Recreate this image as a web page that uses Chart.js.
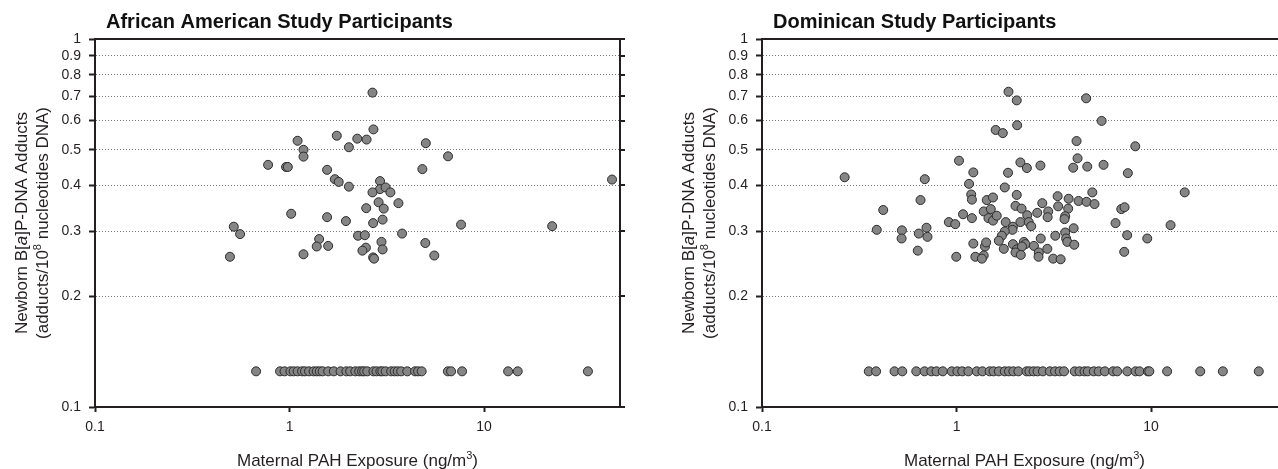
<!DOCTYPE html>
<html lang="en">
<head>
<meta charset="UTF-8">
<title>Newborn B[a]P-DNA adducts vs maternal PAH exposure</title>
<script src="https://cdn.jsdelivr.net/npm/chart.js"></script>
<style>
  html, body { margin: 0; padding: 0; background: #fff; overflow: hidden; width: 1278px; height: 469px; }
  .panel { position: absolute; top: 0; width: 640px; height: 469px; }
  #leftPanel { left: 0; }
  #rightPanel { left: 667px; }
</style>
</head>
<body>

<div class="panel" id="leftPanel"><canvas id="aaChart" width="640" height="469"></canvas></div>
<div class="panel" id="rightPanel"><canvas id="drChart" width="640" height="469"></canvas></div>

<script>
// axis ticks
const xTicks = [0.1, 1, 10];
const yTicks = [0.1, 0.2, 0.3, 0.4, 0.5, 0.6, 0.7, 0.8, 0.9, 1];

// value plotted for samples below detection (bottom row)
const NON_DETECT = 0.125;

// African American: detected adducts
const aaX = [2.67, 2.70, 1.75, 2.23, 2.49, 1.10, 5.02, 1.18, 2.02, 1.18,
             6.53, 0.776, 0.96, 0.98, 4.82, 1.56, 1.71, 1.79, 2.02, 2.92,
             2.92, 3.12, 2.67, 3.30, 2.48, 2.87, 3.05, 3.63, 1.02, 1.56,
             1.95, 3.01, 2.69, 7.62, 0.517, 0.557, 2.25, 2.44, 3.79, 1.42,
             1.38, 1.58, 2.97, 2.47, 2.37, 3.01, 4.99, 5.55, 0.494, 1.18,
             2.69, 2.72, 45.5, 22.4];
const aaY = [0.715, 0.568, 0.546, 0.536, 0.533, 0.529, 0.521, 0.500, 0.508, 0.479,
             0.480, 0.455, 0.449, 0.449, 0.443, 0.441, 0.416, 0.409, 0.397, 0.411,
             0.391, 0.395, 0.383, 0.383, 0.347, 0.360, 0.346, 0.358, 0.335, 0.328,
             0.320, 0.323, 0.316, 0.313, 0.309, 0.295, 0.292, 0.293, 0.296, 0.286,
             0.273, 0.274, 0.281, 0.271, 0.266, 0.268, 0.279, 0.258, 0.256, 0.260,
             0.255, 0.253, 0.415, 0.310];
// African American: below detection
const aaBelowX = [0.673, 0.894, 0.943, 1.01, 1.05, 1.10, 1.16, 1.20, 1.26, 1.33,
                  1.38, 1.43, 1.48, 1.58, 1.69, 1.83, 1.96, 2.05, 2.18, 2.28,
                  2.36, 2.42, 2.51, 2.70, 2.80, 2.93, 3.00, 3.12, 3.33, 3.47,
                  3.60, 3.75, 4.03, 4.42, 4.58, 4.78, 6.52, 6.77, 7.71, 13.3,
                  14.9, 34.2];

// Dominican: detected adducts
const drX = [1.85, 2.04, 2.05, 1.59, 1.73, 4.14, 1.03, 2.13, 2.30, 2.70,
             4.19, 3.98, 0.266, 0.687, 1.22, 1.84, 1.16, 1.77, 0.653, 0.420,
             1.19, 1.20, 1.43, 1.54, 2.04, 2.01, 2.16, 2.76, 3.31, 3.77,
             4.24, 3.33, 3.75, 3.62, 3.59, 4.00, 1.08, 1.20, 1.38, 1.50,
             1.46, 1.54, 1.61, 2.31, 2.60, 2.96, 2.94, 2.13, 1.79, 1.95,
             1.94, 2.35, 2.42, 0.913, 0.985, 0.389, 0.524, 0.522, 0.640, 0.701,
             0.709, 1.77, 1.71, 1.65, 2.71, 3.22, 3.62, 3.66, 3.71, 4.03,
             1.22, 1.40, 1.42, 1.95, 2.22, 2.26, 2.04, 2.17, 2.50, 1.75,
             2.01, 2.14, 2.65, 2.93, 2.64, 0.632, 0.997, 1.25, 1.38, 1.35,
             3.14, 3.43, 4.64, 5.57, 8.30, 4.70, 5.70, 7.60, 4.99, 4.66,
             5.12, 7.03, 7.31, 14.9, 6.57, 12.6, 7.54, 9.56, 7.28];
const drY = [0.719, 0.681, 0.583, 0.566, 0.555, 0.528, 0.467, 0.462, 0.446, 0.453,
             0.474, 0.447, 0.421, 0.416, 0.434, 0.433, 0.404, 0.395, 0.365, 0.343,
             0.378, 0.366, 0.365, 0.371, 0.377, 0.352, 0.346, 0.358, 0.374, 0.368,
             0.363, 0.351, 0.346, 0.330, 0.324, 0.306, 0.334, 0.326, 0.340, 0.345,
             0.326, 0.321, 0.331, 0.332, 0.337, 0.340, 0.328, 0.318, 0.318, 0.309,
             0.303, 0.318, 0.310, 0.318, 0.314, 0.303, 0.302, 0.287, 0.296, 0.307,
             0.290, 0.300, 0.292, 0.283, 0.287, 0.292, 0.298, 0.287, 0.281, 0.276,
             0.278, 0.273, 0.280, 0.277, 0.281, 0.277, 0.268, 0.273, 0.274, 0.269,
             0.263, 0.259, 0.263, 0.269, 0.256, 0.266, 0.256, 0.256, 0.258, 0.253,
             0.253, 0.252, 0.690, 0.599, 0.511, 0.450, 0.455, 0.432, 0.383, 0.361,
             0.356, 0.345, 0.349, 0.383, 0.316, 0.312, 0.293, 0.287, 0.264];
// Dominican: below detection
const drBelowX = [0.354, 0.386, 0.480, 0.526, 0.621, 0.685, 0.742, 0.789, 0.850, 0.945,
                  1.01, 1.07, 1.15, 1.27, 1.36, 1.48, 1.55, 1.65, 1.77, 1.86,
                  1.96, 2.08, 2.29, 2.37, 2.49, 2.61, 2.78, 3.02, 3.21, 3.39,
                  3.57, 4.05, 4.29, 4.55, 4.73, 5.08, 5.38, 5.79, 6.38, 6.70,
                  7.55, 8.32, 8.73, 9.63, 9.80, 12.1, 17.9, 23.4, 35.8];

const FONT = '"Liberation Sans", Arial, Helvetica, sans-serif';
const INK = '#231f20';

// draw a row of text pieces (for italics / superscripts), centred on x
function drawRuns(ctx, runs, x, y) {
    let w = 0;
    runs.forEach(r => { ctx.font = r.font; w += ctx.measureText(r.text).width; });
    let cx = x - w / 2;
    runs.forEach(r => {
        ctx.font = r.font;
        ctx.fillText(r.text, cx, y + (r.dy || 0));
        cx += ctx.measureText(r.text).width;
    });
}

// frame on top/right, right-side ticks, panel title and axis titles
const framePlugin = {
    id: 'frame',
    afterDraw(chart, args, opts) {
        const { ctx, chartArea: a, scales } = chart;
        ctx.save();
        ctx.strokeStyle = INK;
        ctx.lineWidth = 2;
        ctx.beginPath();
        ctx.moveTo(a.left, a.top);
        ctx.lineTo(a.right, a.top);
        ctx.lineTo(a.right, a.bottom);
        ctx.stroke();
        yTicks.forEach(v => {
            const py = Math.round(scales.y.getPixelForValue(v));
            ctx.beginPath();
            ctx.moveTo(a.right, py);
            ctx.lineTo(a.right + 5, py);
            ctx.stroke();
        });

        ctx.fillStyle = '#111';
        ctx.textAlign = 'left';
        ctx.textBaseline = 'alphabetic';
        ctx.font = 'bold 20px ' + FONT;
        ctx.fillText(opts.title, a.left + 11, 28);

        ctx.fillStyle = INK;
        drawRuns(ctx, [
            { text: 'Maternal PAH Exposure (ng/m', font: '17px ' + FONT },
            { text: '3', font: '11px ' + FONT, dy: -7 },
            { text: ')', font: '17px ' + FONT }
        ], (a.left + a.right) / 2, 466);

        ctx.translate(0, (a.top + a.bottom) / 2);
        ctx.rotate(-Math.PI / 2);
        drawRuns(ctx, [
            { text: 'Newborn B[', font: '17px ' + FONT },
            { text: 'a', font: 'italic 17px ' + FONT },
            { text: ']P-DNA Adducts', font: '17px ' + FONT }
        ], 0, 27);
        drawRuns(ctx, [
            { text: '(adducts/10', font: '17px ' + FONT },
            { text: '8', font: '11px ' + FONT, dy: -7 },
            { text: ' nucleotides DNA)', font: '17px ' + FONT }
        ], 0, 48);
        ctx.restore();
    }
};

const pointStyle = {
    pointRadius: 4.5,
    pointHoverRadius: 4.5,
    pointBackgroundColor: '#858585',
    pointBorderColor: '#2b2b2b',
    pointBorderWidth: 1
};

function makeChart(id, title, detX, detY, belowX) {
    const detected = detX.map((x, i) => ({ x: x, y: detY[i] }));
    const below = belowX.map(x => ({ x: x, y: NON_DETECT }));

    return new Chart(document.getElementById(id), {
        type: 'scatter',
        data: {
            datasets: [
                Object.assign({ data: below }, pointStyle),
                Object.assign({ data: detected }, pointStyle)
            ]
        },
        options: {
            responsive: false,
            animation: false,
            devicePixelRatio: 1,
            layout: { padding: { left: 0, right: 20, top: 39, bottom: 0 } },
            plugins: {
                legend: { display: false },
                tooltip: { enabled: false },
                frame: { title: title }
            },
            scales: {
                x: {
                    type: 'logarithmic',
                    min: 0.1,
                    max: 50,
                    afterBuildTicks: s => { s.ticks = xTicks.map(v => ({ value: v })); },
                    afterFit: s => { s.height = 62; },
                    ticks: {
                        callback: v => String(v),
                        autoSkip: false,
                        maxRotation: 0,
                        padding: 7,
                        color: INK,
                        font: { family: FONT, size: 14 }
                    },
                    grid: { drawOnChartArea: false, tickLength: 5, tickWidth: 2, tickColor: INK },
                    border: { color: INK, width: 2 }
                },
                y: {
                    type: 'logarithmic',
                    min: 0.1,
                    max: 1,
                    afterBuildTicks: s => { s.ticks = yTicks.map(v => ({ value: v })); },
                    afterFit: s => { s.width = 95; },
                    ticks: {
                        callback: v => String(v),
                        autoSkip: false,
                        padding: 8,
                        color: INK,
                        font: { family: FONT, size: 14 }
                    },
                    grid: {
                        color: c => (c.tick && (c.tick.value === 0.1 || c.tick.value === 1)) ? 'rgba(0,0,0,0)' : '#7a7a7a',
                        lineWidth: 1,
                        tickLength: 6,
                        tickWidth: 2,
                        tickColor: INK
                    },
                    border: { color: INK, width: 2, dash: [1, 2] }
                }
            }
        },
        plugins: [framePlugin]
    });
}

makeChart('aaChart', 'African American Study Participants', aaX, aaY, aaBelowX);
makeChart('drChart', 'Dominican Study Participants', drX, drY, drBelowX);
</script>

</body>
</html>
